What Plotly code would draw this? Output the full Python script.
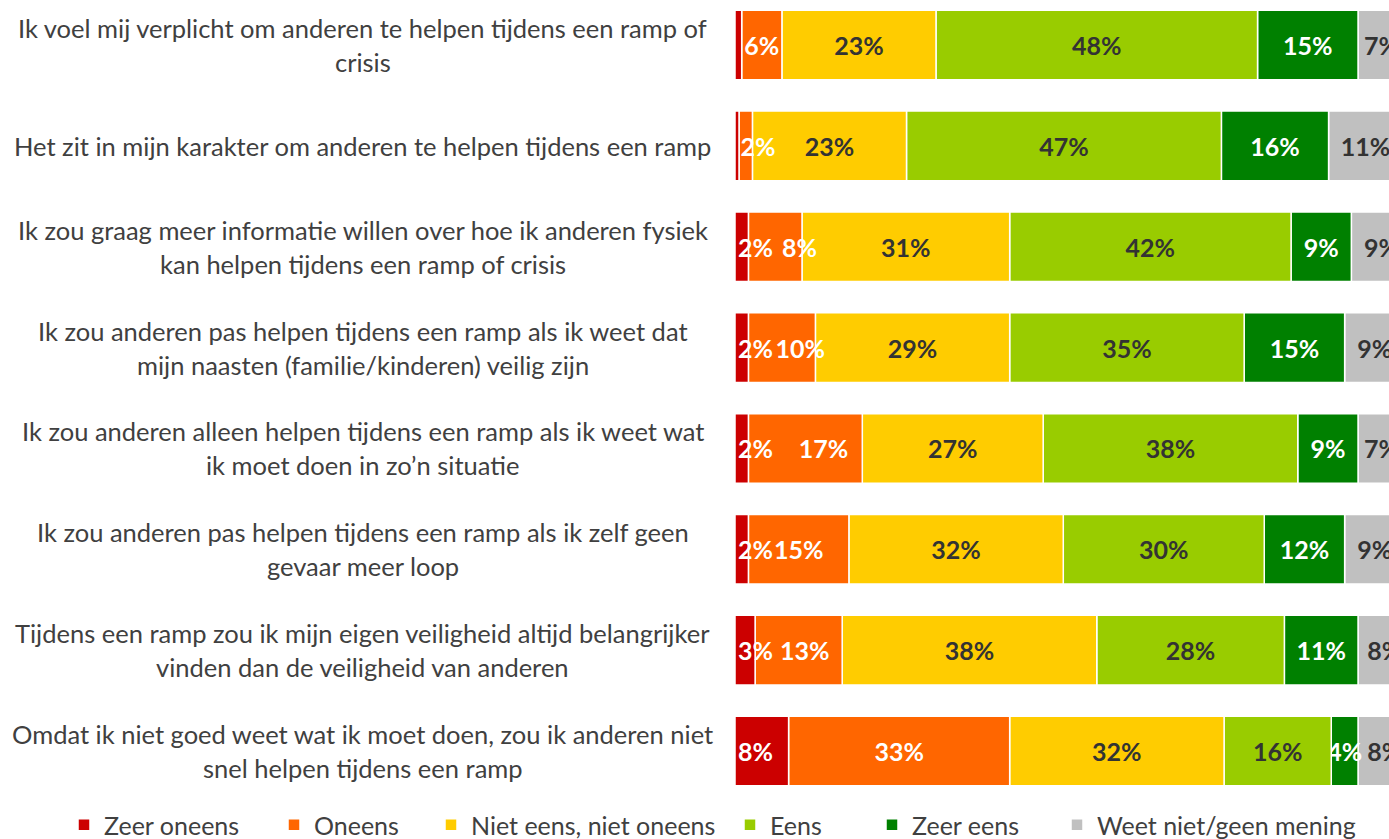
import plotly.graph_objects as go

categories = [
    "Ik voel mij verplicht om anderen te helpen tijdens een ramp of<br>crisis",
    "Het zit in mijn karakter om anderen te helpen tijdens een ramp",
    "Ik zou graag meer informatie willen over hoe ik anderen fysiek<br>kan helpen tijdens een ramp of crisis",
    "Ik zou anderen pas helpen tijdens een ramp als ik weet dat<br>mijn naasten (familie/kinderen) veilig zijn",
    "Ik zou anderen alleen helpen tijdens een ramp als ik weet wat<br>ik moet doen in zo’n situatie",
    "Ik zou anderen pas helpen tijdens een ramp als ik zelf geen<br>gevaar meer loop",
    "Tijdens een ramp zou ik mijn eigen veiligheid altijd belangrijker<br>vinden dan de veiligheid van anderen",
    "Omdat ik niet goed weet wat ik moet doen, zou ik anderen niet<br>snel helpen tijdens een ramp",
]

series_names = ["Zeer oneens", "Oneens", "Niet eens, niet oneens", "Eens", "Zeer eens", "Weet niet/geen mening"]

zeer_oneens = [1, 0.6, 2, 2, 2, 2, 3, 8]
oneens = [6, 2, 8, 10, 17, 15, 13, 33]
neutraal = [23, 23, 31, 29, 27, 32, 38, 32]
eens = [48, 47, 42, 35, 38, 30, 28, 16]
zeer_eens = [15, 16, 9, 15, 9, 12, 11, 4]
weet_niet = [7, 11, 9, 9, 7, 9, 8, 8]

series_values = [zeer_oneens, oneens, neutraal, eens, zeer_eens, weet_niet]

# styles
colors = ["#CC0000", "#FF6600", "#FFCC00", "#99CC00", "#008000", "#C0C0C0"]
text_colors = ["#FFFFFF", "#FFFFFF", "#333333", "#333333", "#FFFFFF", "#333333"]
text_anchor = ["start", "middle", "middle", "middle", "middle", "middle"]
# rightward nudge (px) of the "Oneens" labels so they clear the small red labels
oneens_label_nudge_px = [0, 14, 25, 19, 19, 0, 7, 0]
NBSP_PX = 6.3
FONT = "Lato"
PX_PER_PCT = 6.7
X_MAX = 101.5
ML, MB = 735, 49
W, H = int(round(ML + X_MAX * PX_PER_PCT)), 839   # runs past the 1389px window, which crops it
PLOT_W = W - ML
PLOT_H = H - MB
legend_text_px = [104, 314, 471, 770, 912, 1097]
LEGEND_Y_PX = 825
LABEL_CENTER_PX = 363
LINE_H = 34

# stacked bases computed from the data
bases = []
running = [0.0] * len(categories)
for vals in series_values:
    bases.append(list(running))
    running = [r + v for r, v in zip(running, vals)]


def label_texts(i, vals):
    out = []
    for k, v in enumerate(vals):
        if v < 1.5:
            out.append("")
            continue
        t = f"{v:.0f}%"
        if i == 1 and oneens_label_nudge_px[k]:
            t = "\u00a0" * int(round(2 * oneens_label_nudge_px[k] / NBSP_PX)) + t
        out.append(t)
    return out


fig = go.Figure()
# draw right-most series first so labels of the left series stay on top
for i in reversed(range(len(series_names))):
    vals = series_values[i]
    fig.add_trace(go.Bar(
        name=series_names[i],
        y=categories,
        x=vals,
        base=bases[i],
        orientation="h",
        marker=dict(color=colors[i], line=dict(color="white", width=1.5)),
        text=label_texts(i, vals),
        texttemplate="%{text}",
        textposition="inside",
        insidetextanchor=text_anchor[i],
        constraintext="none",
        textangle=0,
        textfont=dict(family=FONT, size=25, color=text_colors[i], weight="bold"),
        cliponaxis=False,
        hoverinfo="x+name",
        legend="legend" if i == 0 else f"legend{i+1}",
    ))

annotations = []
for cat in categories:
    lines = cat.split("<br>")
    n = len(lines)
    for j, line in enumerate(lines):
        off = (j - (n - 1) / 2) * LINE_H
        annotations.append(dict(
            x=(LABEL_CENTER_PX - ML) / PLOT_W, xref="paper",
            y=cat, yref="y",
            text=line, showarrow=False,
            xanchor="center", yanchor="middle",
            yshift=-off,
            font=dict(family=FONT, size=25.5, color="#404040"),
        ))

top_v = -45 / 100.86
bot_v = (PLOT_H - 45) / 100.86

layout = dict(
    width=W, height=H,
    margin=dict(l=ML, r=0, t=0, b=MB, autoexpand=False),
    barmode="overlay",
    bargap=0.31,
    plot_bgcolor="white",
    paper_bgcolor="white",
    xaxis=dict(range=[0, X_MAX], showgrid=False, showticklabels=False, zeroline=False, showline=False, ticks=""),
    yaxis=dict(range=[bot_v, top_v], showticklabels=False, showgrid=False, zeroline=False, showline=False, ticks="",
               categoryorder="array", categoryarray=categories),
    annotations=annotations,
    showlegend=True,
)
for i, tx in enumerate(legend_text_px):
    key = "legend" if i == 0 else f"legend{i+1}"
    layout[key] = dict(
        x=(tx - 40 - ML) / PLOT_W, xanchor="left",
        y=-(LEGEND_Y_PX - PLOT_H) / PLOT_H, yanchor="middle",
        orientation="h", bgcolor="rgba(0,0,0,0)",
        font=dict(family=FONT, size=25, color="#404040"),
    )
fig.update_layout(**layout)

fig.write_html(
    "out.html",
    config={"displayModeBar": False},
    post_script="document.body.style.margin='0px';document.body.style.overflow='hidden';",
)
